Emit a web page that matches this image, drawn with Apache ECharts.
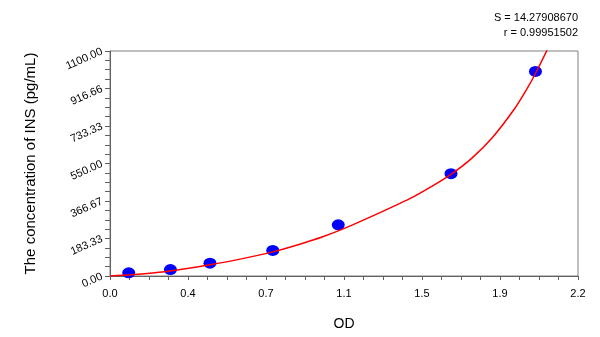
<!DOCTYPE html>
<html>
<head>
<meta charset="utf-8">
<script src="https://cdn.jsdelivr.net/npm/echarts@6/dist/echarts.min.js"></script>
<style>html,body{margin:0;padding:0;background:#fff;}#c{width:600px;height:337px;}</style>
</head>
<body>
<div id="c"></div>
<script>
// Standard points (OD, concentration)
var pointOD = [0.088, 0.284, 0.470, 0.765, 1.073, 1.603, 2.000];
var pointConc = [15.6, 31.25, 62.5, 125, 250, 500, 1000];
// Fitted curve
var curveOD = [0, 0.1, 0.2, 0.3, 0.47, 0.6, 0.765, 0.9, 1.0, 1.113, 1.269, 1.426, 1.504, 1.603, 1.7, 1.8, 1.9, 1.96, 2.0, 2.055];
var curveConc = [0, 6, 15, 27, 55, 80, 118, 158, 192, 238, 310, 387, 433, 497, 575, 680, 815, 915, 990, 1105];
// Tick labels
var xTickLabels = ['0.0', '0.4', '0.7', '1.1', '1.5', '1.9', '2.2'];
var yTickLabels = ['0.00', '183.33', '366.67', '550.00', '733.33', '916.66', '1100.00'];
var statS = 'S = 14.27908670';
var statR = 'r = 0.99951502';

var xMax = 2.2, yMax = 1100;
var xStep = xMax / 6, yStep = yMax / 6;

var chart = echarts.init(document.getElementById('c'), null, {renderer: 'canvas'});
var font = 'Arial, "Liberation Sans", sans-serif';
chart.setOption({
  animation: false,
  backgroundColor: '#ffffff',
  grid: {left: 110, right: 22, top: 51, bottom: 61, show: true, borderColor: '#808080', borderWidth: 1, backgroundColor: 'transparent'},
  xAxis: {
    type: 'value', min: 0, max: xMax, interval: xStep,
    name: 'OD', nameLocation: 'middle', nameGap: 41,
    nameTextStyle: {fontFamily: font, fontSize: 14, color: '#000'},
    axisLine: {show: true, lineStyle: {color: '#606060', width: 1}},
    axisTick: {show: true, length: 4, lineStyle: {color: '#606060'}},
    minorTick: {show: true, splitNumber: 4, length: 4, lineStyle: {color: '#606060'}},
    splitLine: {show: false},
    axisLabel: {fontFamily: font, fontSize: 11, color: '#000', margin: 12,
      formatter: function (v) { var i = Math.round(v / xStep); return xTickLabels[i] || ''; }}
  },
  yAxis: {
    type: 'value', min: 0, max: yMax, interval: yStep,
    name: 'The concentration of INS (pg/mL)', nameLocation: 'middle', nameGap: 72, nameRotate: 90,
    nameTextStyle: {fontFamily: font, fontSize: 15, color: '#000'},
    axisLine: {show: true, lineStyle: {color: '#606060', width: 1}},
    axisTick: {show: true, length: 5, lineStyle: {color: '#606060'}},
    minorTick: {show: true, splitNumber: 4, length: 5, lineStyle: {color: '#606060'}},
    splitLine: {show: false},
    axisLabel: {fontFamily: font, fontSize: 11, color: '#000', rotate: 24, margin: 8,
      formatter: function (v) { var i = Math.round(v / yStep); return yTickLabels[i] || ''; }}
  },
  graphic: [
    {type: 'text', right: 22, top: 12, style: {text: statS, font: '11px ' + font, fill: '#000', textAlign: 'right'}},
    {type: 'text', right: 22, top: 27, style: {text: statR, font: '11px ' + font, fill: '#000', textAlign: 'right'}}
  ],
  series: [
    {
      type: 'line', data: curveOD.map(function (x, i) { return [x, curveConc[i]]; }),
      smooth: 0.3, showSymbol: false, clip: true,
      lineStyle: {color: '#ff0000', width: 1.5}, z: 3
    },
    {
      type: 'scatter', data: pointOD.map(function (x, i) { return [x, pointConc[i]]; }),
      symbol: 'circle', symbolSize: [13, 11],
      itemStyle: {color: '#0000ff', opacity: 1}, z: 2
    }
  ]
});
</script>
</body>
</html>
